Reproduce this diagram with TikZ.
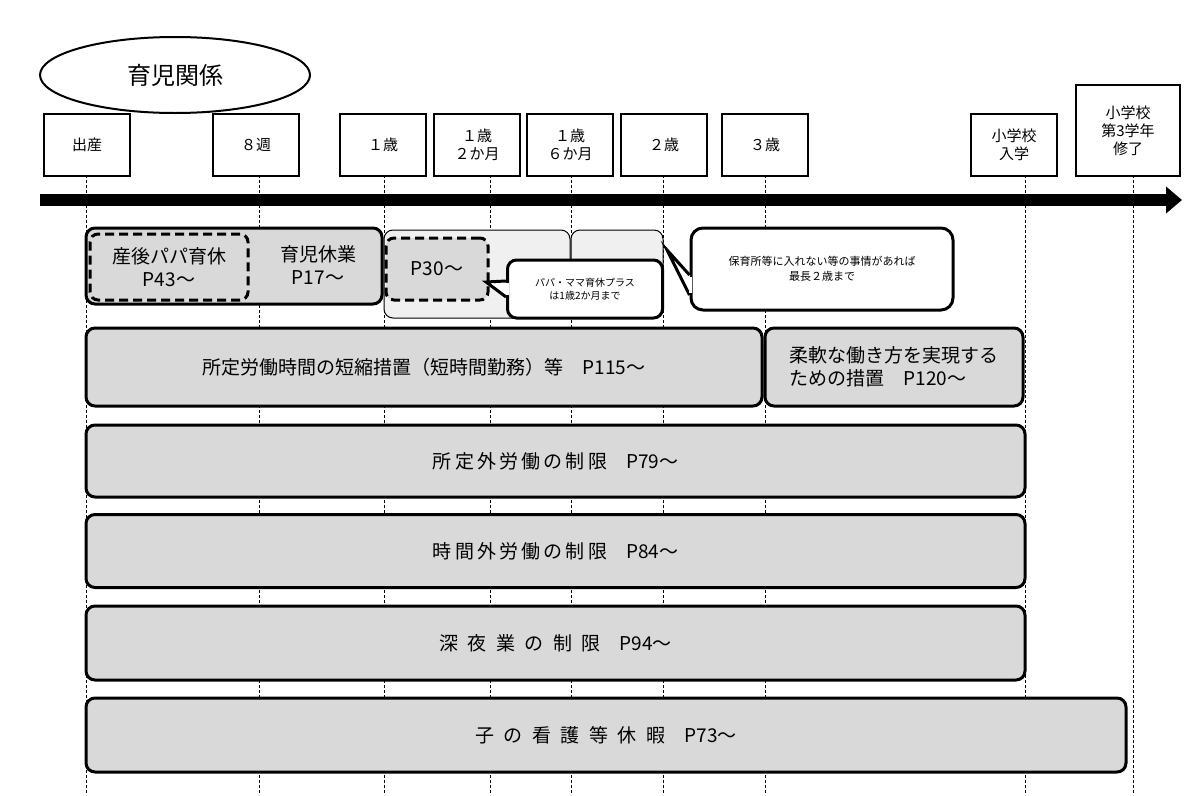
\documentclass[tikz,border=0pt]{standalone}
\usepackage{fontspec}
\setmainfont{Noto Sans CJK JP}
\usetikzlibrary{shapes.geometric,arrows.meta}
\begin{document}
\begin{tikzpicture}[x=1pt,y=-1pt,
 lbl/.style={draw,line width=1.3pt,fill=white,align=center,font=\fontsize{15}{18}\selectfont,inner sep=0pt},
 bar/.style={draw,line width=3pt,fill=gray!30,rounded corners=9pt,inner sep=0pt,align=center,font=\fontsize{19}{23}\selectfont},
 lite/.style={draw,line width=1pt,fill=gray!12,rounded corners=9pt,inner sep=0pt},
 dbox/.style={draw,line width=3pt,dashed,dash pattern=on 9pt off 5pt,fill=gray!30,rounded corners=8pt,inner sep=0pt,align=center,font=\fontsize{19}{23}\selectfont},
 vline/.style={densely dashed,line width=0.8pt}]
\useasboundingbox (0,0) rectangle (1198,795);
\foreach \x in {86,259,384,490,571,663,765,1025,1133} \draw[vline] (\x,150) -- (\x,795);
\node[draw,line width=2pt,ellipse,minimum width=270pt,minimum height=76pt,font=\fontsize{24}{28}\selectfont] (title) at (175,75) {育児関係};
\node[lbl,minimum width=86pt,minimum height=62pt] (b0) at (87,145) {出産};
\node[lbl,minimum width=86pt,minimum height=62pt] (b1) at (256,145) {８週};
\node[lbl,minimum width=86pt,minimum height=62pt] (b2) at (383,145) {１歳};
\node[lbl,minimum width=86pt,minimum height=62pt] (b3) at (477,145) {１歳\\２か月};
\node[lbl,minimum width=86pt,minimum height=62pt] (b4) at (570,145) {１歳\\６か月};
\node[lbl,minimum width=86pt,minimum height=62pt] (b5) at (664,145) {２歳};
\node[lbl,minimum width=86pt,minimum height=62pt] (b6) at (765,145) {３歳};
\node[lbl,minimum width=86pt,minimum height=62pt] (b7) at (1014,145) {小学校\\入学};
\node[lbl,minimum width=104pt,minimum height=91pt] (b8) at (1128,130.5) {小学校\\第3学年\\修了};
\coordinate (as) at (40,200); \coordinate (ae) at (1182,200);
\draw[line width=12pt,-{Triangle[length=16pt,width=26pt]}] (as) -- (ae);
% row 1
\node[lite,minimum width=186pt,minimum height=88pt] (l1) at (477,274) {};
\node[lite,minimum width=92pt,minimum height=88pt] (l2) at (617,274) {};
\node[bar,minimum width=296pt,minimum height=76pt] (r1) at (234,266) {};
\node[dbox,minimum width=158pt,minimum height=66pt] (d1) at (169,267) {産後パパ育休\\P43～};
\node[font=\fontsize{19}{23}\selectfont,align=center] (t1) at (318,265) {育児休業\\P17～};
\node[dbox,minimum width=102pt,minimum height=62pt] (d2) at (437,269) {P30～};
\node[draw,line width=3pt,fill=white,rounded corners=9pt,minimum width=155pt,minimum height=58pt,align=center,font=\fontsize{10}{13}\selectfont] (c1) at (585,289) {パパ・ママ育休プラス\\は1歳2か月まで};
\coordinate (p1) at (486,282);
\draw[line width=3pt,fill=white,line join=miter] ([yshift=-8pt]c1.west) -- (p1) -- ([yshift=8pt]c1.west);
\fill[white] ([shift={(-0.5pt,-6pt)}]c1.west) rectangle ([shift={(2.5pt,6pt)}]c1.west);
\node[draw,line width=3pt,fill=white,rounded corners=12pt,minimum width=262pt,minimum height=82pt,align=center,font=\fontsize{11}{15}\selectfont] (c2) at (822,269) {保育所等に入れない等の事情があれば\\最長２歳まで};
\coordinate (p2) at (667,250);
\draw[line width=3pt,fill=white,line join=miter] ([yshift=-26pt]c2.west) -- (p2) -- ([yshift=-6pt]c2.west);
\fill[white] ([shift={(-0.5pt,-24pt)}]c2.west) rectangle ([shift={(2.5pt,-8pt)}]c2.west);
% rows
\node[bar,minimum width=676pt,minimum height=78pt] (r2) at (424,367) {所定労働時間の短縮措置（短時間勤務）等\quad P115～};
\node[bar,minimum width=258pt,minimum height=78pt,align=left] (r2b) at (894,367) {柔軟な働き方を実現する\\ための措置\quad P120～};
\node[bar,minimum width=939pt,minimum height=72pt] (r3) at (555.5,461) {所\,定\,外\,労\,働\,の\,制\,限\quad P79～};
\node[bar,minimum width=939pt,minimum height=73pt] (r4) at (555.5,551) {時\,間\,外\,労\,働\,の\,制\,限\quad P84～};
\node[bar,minimum width=939pt,minimum height=74pt] (r5) at (555.5,643) {深\enspace 夜\enspace 業\enspace の\enspace 制\enspace 限\quad P94～};
\node[bar,minimum width=1040pt,minimum height=74pt] (r6) at (606,735) {子\enspace の\enspace 看\enspace 護\enspace 等\enspace 休\enspace 暇\quad P73～};
\end{tikzpicture}
\end{document}
